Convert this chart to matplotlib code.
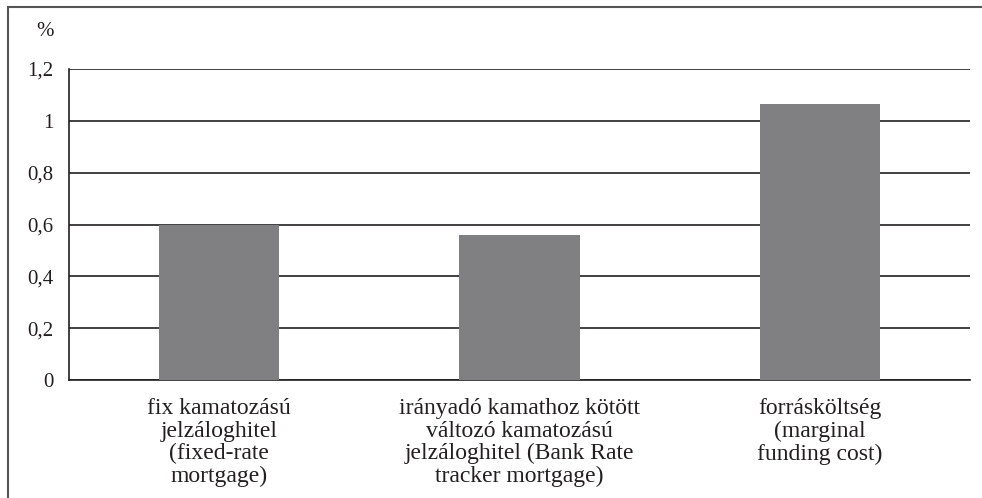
import matplotlib
matplotlib.use("Agg")
import matplotlib.pyplot as plt
from matplotlib.lines import Line2D
from matplotlib.ticker import FixedLocator

categories = [
    "fix kamatozású\njelzáloghitel\n(fixed-rate\nmortgage)",
    "irányadó kamathoz kötött\nváltozó kamatozású\njelzáloghitel (Bank Rate\ntracker mortgage)",
    "forrásköltség\n(marginal\nfunding cost)",
]
values = [0.60, 0.56, 1.065]
yticks = [0, 0.2, 0.4, 0.6, 0.8, 1.0, 1.2]
yticklabels = ["0", "0,2", "0,4", "0,6", "0,8", "1", "1,2"]

plt.rcParams["font.family"] = ["Liberation Serif", "DejaVu Serif"]

W, H = 982, 498
fig = plt.figure(figsize=(W / 100, H / 100), dpi=100)
ax = fig.add_axes([69 / W, 1 - 380 / H, (970 - 69) / W, (380 - 69) / H])

x = list(range(len(categories)))
ax.bar(x, values, width=0.4, color="#808083", zorder=3)
ax.set_xlim(-0.5, 2.5)
ax.set_ylim(0, 1.2)
ax.yaxis.set_major_locator(FixedLocator(yticks))
ax.set_yticklabels(yticklabels, fontsize=15, color="#231f20")
ax.set_xticks(x)
ax.set_xticklabels(categories, fontsize=17, color="#231f20", linespacing=1.1)
ax.tick_params(axis="both", length=0)
ax.tick_params(axis="y", pad=11)
ax.tick_params(axis="x", pad=13)
ax.grid(axis="y", color="#231f20", linewidth=1.2, zorder=0)
for s in ["top", "right"]:
    ax.spines[s].set_visible(False)
for s in ["left", "bottom"]:
    ax.spines[s].set_color("#231f20")
    ax.spines[s].set_linewidth(1.2)

fig.text(45 / W, 1 - 32 / H, "%", fontsize=15, color="#231f20", ha="center", va="center")

# outer frame
fig.add_artist(Line2D([8 / W, 1], [1 - 7 / H, 1 - 7 / H], transform=fig.transFigure,
                      color="#555555", linewidth=1.5))
fig.add_artist(Line2D([8 / W, 8 / W], [0, 1 - 7 / H], transform=fig.transFigure,
                      color="#555555", linewidth=1.5))

fig.savefig("out.png", dpi=100)
